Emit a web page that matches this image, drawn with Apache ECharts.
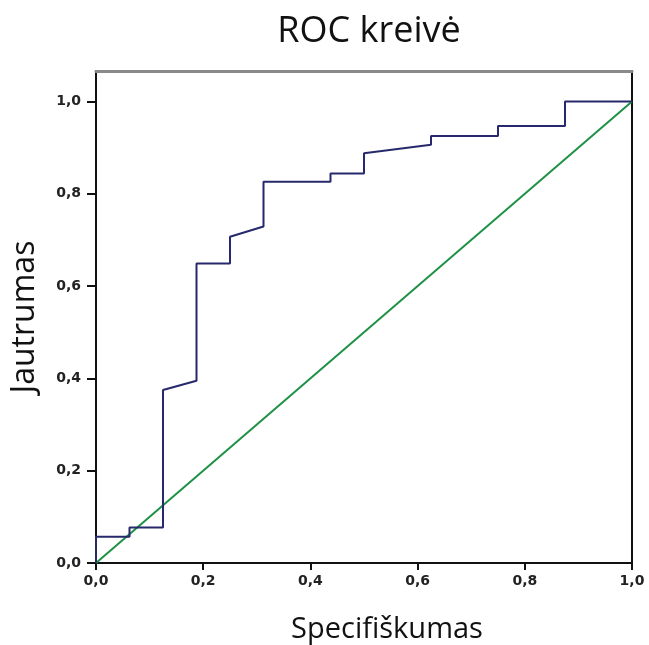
<!DOCTYPE html>
<html>
<head>
<meta charset="utf-8">
<script src="https://cdn.jsdelivr.net/npm/echarts@6/dist/echarts.min.js"></script>
<style>
html,body{margin:0;padding:0;background:#fff;}
#chart{width:649px;height:645px;}
</style>
</head>
<body>
<div id="chart"></div>
<script>
// ROC curve points: [specificity axis value, sensitivity]
const rocX = [0, 0, 0.0625, 0.0625, 0.125, 0.125, 0.1875, 0.1875, 0.25, 0.25, 0.3125, 0.3125, 0.4375, 0.4375, 0.5, 0.5, 0.625, 0.625, 0.75, 0.75, 0.875, 0.875, 1.0];
const rocY = [0, 0.057, 0.057, 0.077, 0.077, 0.375, 0.395, 0.649, 0.649, 0.707, 0.729, 0.826, 0.826, 0.844, 0.844, 0.888, 0.906, 0.925, 0.925, 0.947, 0.947, 1.0, 1.0];
const refX = [0, 1];
const refY = [0, 1];
const xTicks = [0, 0.2, 0.4, 0.6, 0.8, 1.0];
const yTicks = [0, 0.2, 0.4, 0.6, 0.8, 1.0];
const title = 'ROC kreivė';
const xName = 'Specifiškumas';
const yName = 'Jautrumas';

const fmt = v => {
  const ok = yTicks.some(t => Math.abs(t - v) < 1e-6);
  return ok ? v.toFixed(1).replace('.', ',') : '';
};

const chart = echarts.init(document.getElementById('chart'), null, {renderer: 'canvas'});
chart.setOption({
  animation: false,
  backgroundColor: '#ffffff',
  title: {
    text: title,
    left: 364, top: 9, textAlign: 'center',
    textStyle: {fontFamily: 'Open Sans', fontSize: 36, fontWeight: 'normal', color: '#111'}
  },
  grid: {left: 96, right: 17, top: 71, bottom: 82, containLabel: false, outerBoundsMode: 'none'},
  xAxis: [{
    type: 'value', min: 0, max: 1, interval: 0.2, position: 'bottom',
    name: xName, nameLocation: 'middle', nameGap: 52,
    nameTextStyle: {fontFamily: 'Open Sans', fontSize: 29, color: '#111', padding: [0, 0, 0, 46]},
    axisLine: {onZero: false, lineStyle: {color: '#111', width: 2}},
    axisTick: {show: true, length: 7, lineStyle: {color: '#111', width: 2}},
    axisLabel: {formatter: fmt, fontFamily: 'DejaVu Sans', fontWeight: 'bold', fontSize: 14, color: '#222', margin: 11},
    splitLine: {show: false}
  }, {
    type: 'value', position: 'top', min: 0, max: 1,
    axisLine: {show: true, onZero: false, lineStyle: {color: '#8a8a8a', width: 3}},
    axisTick: {show: false}, axisLabel: {show: false}, splitLine: {show: false}
  }],
  yAxis: [{
    type: 'value', min: 0, max: 1.066, interval: 0.2, position: 'left',
    name: yName, nameLocation: 'middle', nameGap: 55, nameRotate: 90,
    nameTextStyle: {fontFamily: 'Open Sans', fontSize: 32, color: '#111'},
    axisLine: {show: true, onZero: false, lineStyle: {color: '#111', width: 2}},
    axisTick: {show: true, length: 9, lineStyle: {color: '#111', width: 2}},
    axisLabel: {formatter: fmt, showMaxLabel: false, fontFamily: 'DejaVu Sans', fontWeight: 'bold', fontSize: 14, color: '#222', margin: 15},
    splitLine: {show: false}
  }, {
    type: 'value', position: 'right', min: 0, max: 1.066,
    axisLine: {show: true, onZero: false, lineStyle: {color: '#111', width: 2}},
    axisTick: {show: false}, axisLabel: {show: false}, splitLine: {show: false}
  }],
  series: [{
    type: 'line', name: 'ROC',
    data: rocX.map((x, i) => [x, rocY[i]]),
    showSymbol: false, smooth: false,
    lineStyle: {color: '#26296b', width: 2},
    itemStyle: {color: '#26296b'}, z: 3
  }, {
    type: 'line', name: 'Reference',
    data: refX.map((x, i) => [x, refY[i]]),
    showSymbol: false,
    lineStyle: {color: '#1f9146', width: 2},
    itemStyle: {color: '#1f9146'}, z: 2
  }]
});
</script>
</body>
</html>
